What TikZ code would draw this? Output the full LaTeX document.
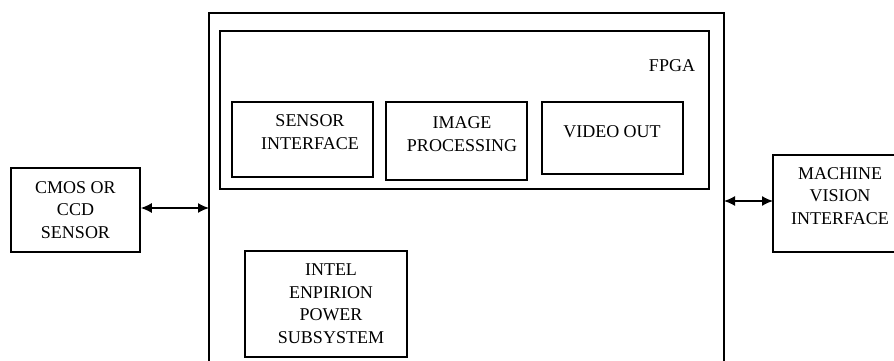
\documentclass[tikz,border=0pt]{standalone}
\usepackage{fontspec}
\setmainfont{Liberation Serif}
\usetikzlibrary{arrows.meta}
\begin{document}
\begin{tikzpicture}[x=1pt,y=-1pt,
  box/.style={draw, line width=1.6pt, inner sep=0pt},
  txt/.style={align=center, inner sep=0pt, font=\fontsize{18}{22.5}\selectfont},
  link/.style={line width=1.4pt, {Latex[length=11pt,width=10pt]}-{Latex[length=11pt,width=10pt]}}]
\useasboundingbox (0,0) rectangle (894,361);
% outer board (open at bottom)
\coordinate (obl) at (209,362);
\coordinate (otl) at (209,13);
\coordinate (otr) at (724,13);
\coordinate (obr) at (724,362);
\draw[line width=1.6pt] (obl) -- (otl) -- (otr) -- (obr);
% FPGA box
\node[box, minimum width=489pt, minimum height=158pt] (fpga) at (464.5,110) {};
\node[txt] (fpgat) at (672,66) {FPGA};
% inner blocks
\node[box, minimum width=141pt, minimum height=75pt] (sens) at (302.5,139.5) {};
\node[txt] (senst) at (310,132) {SENSOR\\INTERFACE};
\node[box, minimum width=141pt, minimum height=78pt] (img) at (456.5,141) {};
\node[txt] (imgt) at (462,134) {IMAGE\\PROCESSING};
\node[box, minimum width=141pt, minimum height=72pt] (vid) at (612.5,138) {};
\node[txt] (vidt) at (612,132) {VIDEO OUT};
% power
\node[box, minimum width=162pt, minimum height=106pt] (pwr) at (326,304) {};
\node[txt] (pwrt) at (331,303.5) {INTEL\\ENPIRION\\POWER\\SUBSYSTEM};
% CMOS sensor
\node[box, minimum width=129pt, minimum height=84pt] (cmos) at (75.5,210) {};
\node[txt] (cmost) at (75.5,210) {CMOS OR\\CCD\\SENSOR};
% machine vision (open at right edge)
\coordinate (mvtr) at (896,155);
\coordinate (mvtl) at (773,155);
\coordinate (mvbl) at (773,252);
\coordinate (mvbr) at (896,252);
\draw[line width=1.6pt] (mvtr) -- (mvtl) -- (mvbl) -- (mvbr);
\node[txt] (mvt) at (840,196) {MACHINE\\VISION\\INTERFACE};
% connectors
\coordinate (lin) at (209,208);
\coordinate (rout) at (724,201);
\coordinate (mvin) at (773,201);
\draw[link] (cmos.east |- lin) -- (lin);
\draw[link] (rout) -- (mvin);
\end{tikzpicture}
\end{document}
